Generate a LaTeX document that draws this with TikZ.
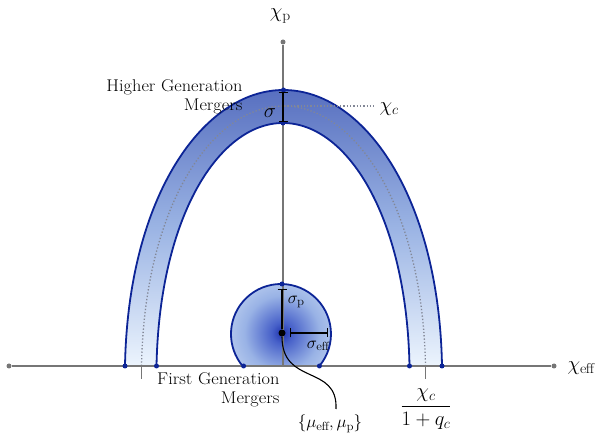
\RequirePackage{fix-cm}
\documentclass[tikz,border=0pt]{standalone}
\usepackage{amsmath}
\usepackage{fontspec}
\setmainfont{Latin Modern Roman}[FakeStretch=1.08]
\usetikzlibrary{arrows.meta}
\definecolor{navy}{RGB}{12,36,150}
\definecolor{archtop}{RGB}{88,112,192}
\definecolor{archmid}{RGB}{155,180,228}
\definecolor{archbot}{RGB}{236,244,253}
\definecolor{axisgray}{RGB}{118,118,118}
\definecolor{dotgray}{RGB}{130,135,150}
\pgfdeclareradialshading{blob}{\pgfpoint{0bp}{0bp}}{rgb(0bp)=(0.12,0.20,0.68); rgb(5bp)=(0.28,0.38,0.79); rgb(18bp)=(0.60,0.70,0.90); rgb(38bp)=(0.86,0.91,0.975); rgb(50bp)=(0.93,0.96,0.995)}
\begin{document}
\begin{tikzpicture}[x=1pt,y=1pt,
  lbl/.style={font=\fontsize{17}{18.5}\selectfont},
  biglbl/.style={font=\fontsize{20.5}{23}\selectfont},
  axisline/.style={draw=axisgray,line width=1.8pt},
  border/.style={draw=navy,line width=1.8pt,line join=round},
  errbar/.style={draw=black,line width=1.1pt},
  centreline/.style={draw=dotgray,line width=1.3pt,dotted},
  enddot/.style={circle,fill=axisgray,inner sep=0pt,minimum size=5pt},
  bluedot/.style={circle,fill=navy,inner sep=0pt,minimum size=5pt}]
\useasboundingbox (0,0) rectangle (600,434);
% arch band
\path[border,top color=archtop,bottom color=archbot,middle color=archmid]
  (125,68) .. controls (128,238) and (203.5,344) .. (283.5,344)
  .. controls (363.5,344) and (439,238) .. (442,68)
  -- (409.5,68) .. controls (406.5,217.7) and (346.9,311) .. (283,311)
  .. controls (219.1,311) and (159.5,217.7) .. (156.5,68) -- cycle;
% centre dotted line of arch
\path[centreline] (141.5,68) .. controls (144.5,228) and (211.8,328) .. (283.5,328)
  .. controls (355.2,328) and (422.5,228) .. (425.5,68);
\coordinate (cl) at (141.5,68);
\coordinate (cr) at (425.5,68);
\coordinate (cl2) at (141.5,55);
\coordinate (cr2) at (425.5,55);
\draw[draw=axisgray,line width=1pt] (cl) -- (cl2);
\draw[draw=axisgray,line width=1pt] (cr) -- (cr2);
% first generation blob
\begin{scope}
  \clip (319.4,68) arc[start angle=-39.8,end angle=219.8,radius=50] -- cycle;
  \shade[shading=blob] (282,101) circle (52);
\end{scope}
\path[border] (319.4,68) arc[start angle=-39.8,end angle=219.8,radius=50] -- cycle;
% axes
\node[enddot] (xl) at (9,68) {};
\node[enddot] (xr) at (554,68) {};
\node[enddot] (yt) at (283,392) {};
\coordinate (o) at (283,68);
\draw[axisline] (xl) -- (xr);
\draw[axisline] (o) -- (yt);
\node[biglbl,anchor=west] (xlab) at (564,66) {$\chi_{\mathrm{eff}}$};
\node[biglbl] (ylab) at (280,418) {$\chi_{\mathrm{p}}$};
% blue plot points
\foreach \p in {(125,68),(156.5,68),(409.5,68),(442,68),(283.5,344),(283,311),(243.6,68),(319.4,68),(282,150)}
  \node[bluedot] at \p {};
% sigma of arch
\coordinate (st) at (283,342);
\coordinate (sb) at (283,312);
\draw[errbar,{Bar[width=9pt]}-{Bar[width=9pt]}] (st) -- (sb);
\node[biglbl] (sig) at (270,321) {$\sigma$};
% chi_c
\coordinate (cc1) at (284,328);
\coordinate (cc2) at (375,328);
\draw[draw=dotgray,line width=1.3pt,dotted] (cc1) -- (cc2);
\node[biglbl,anchor=west] (chic) at (376,325) {$\chi_c$};
% mean dot and sigma bars
\node[circle,fill=black,inner sep=0pt,minimum size=7pt] (mu) at (282,101) {};
\coordinate (spt) at (282,145);
\draw[errbar,{Bar[width=9pt]}-] (spt) -- (mu);
\node[lbl] (sigp) at (296,132) {$\sigma_{\mathrm{p}}$};
\coordinate (se1) at (290,101);
\coordinate (se2) at (328,101);
\draw[errbar,{Bar[width=9pt]}-{Bar[width=9pt]}] (se1) -- (se2);
\node[lbl] (sige) at (318,88) {$\sigma_{\mathrm{eff}}$};
% mu label
\node[lbl] (mul) at (330,10) {$\{\mu_{\mathrm{eff}},\mu_{\mathrm{p}}\}$};
\draw[line width=1.1pt] (mu) .. controls (282,48) and (338,70) .. (336,25);
% fraction
\node[biglbl] (frac) at (426,25) {$\dfrac{\chi_c}{1+q_c}$};
% group labels
\node[lbl,align=right,anchor=east] (hg) at (246,337) {Higher Generation\\Mergers};
\node[lbl,align=right,anchor=east] (fg) at (283,44) {First Generation\\Mergers};
\end{tikzpicture}
\end{document}
